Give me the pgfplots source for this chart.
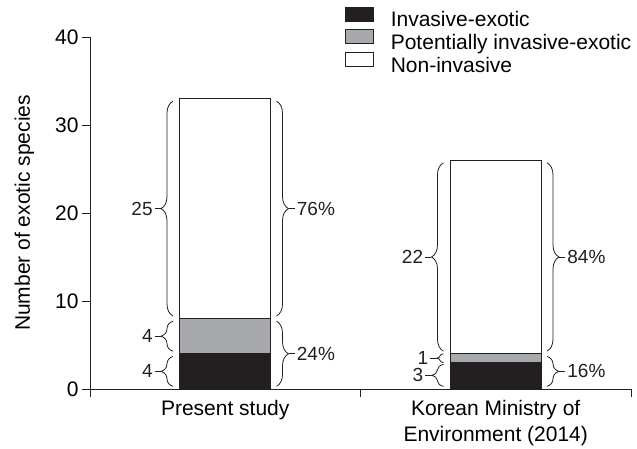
\documentclass[border=0pt]{standalone}
\usepackage{fontspec}
\setmainfont{Liberation Sans}
\usepackage{pgfplots}
\pgfplotsset{compat=1.18}
\usetikzlibrary{decorations.pathreplacing}
\definecolor{dk}{HTML}{231F20}
\definecolor{gr}{HTML}{A7A9AC}
\definecolor{ln}{HTML}{231F20}
\newcommand\lbl{\fontsize{19}{22}\selectfont}
\tikzset{
  br/.style={decorate, decoration={brace, amplitude=12pt}, line width=0.8pt, ln},
  brs/.style={decorate, decoration={brace, amplitude=7pt}, line width=0.8pt, ln},
  tk/.style={line width=0.8pt, ln},
}
\begin{document}
\begin{tikzpicture}[font=\fontsize{21}{25}\selectfont]
\begin{axis}[
  scale only axis, width=541pt, height=352pt,
  xmin=-0.5, xmax=1.5, ymin=0, ymax=40,
  axis x line=bottom, axis y line=left,
  axis line style={-, line width=0.8pt, ln},
  tick align=outside, major tick length=8pt,
  tick style={line width=0.8pt, ln},
  ytick={0,10,20,30,40},
  xtick={-0.5,0.5,1.5}, xticklabels={},
  extra x ticks={0,1},
  extra x tick labels={Present study, {Korean Ministry of\\Environment (2014)}},
  extra x tick style={major tick length=0pt, xticklabel style={yshift=-8pt}},
  xticklabel style={align=center, font=\fontsize{21}{26}\selectfont},
  yticklabel style={font=\fontsize{21}{25}\selectfont},
  ylabel={Number of exotic species},
  ylabel style={font=\fontsize{21}{25}\selectfont},
  ylabel shift=14pt,
  /pgf/number format/assume math mode=true,
  ybar stacked, bar width=91pt,
  clip=false,
  legend cell align=left,
  legend style={at={(rel axis cs:0.471,1.087)}, anchor=north west,
    draw=none, fill=none, inner sep=0pt, row sep=-2pt,
    nodes={inner sep=0pt, text height=15pt, text depth=5pt},
    column sep=17pt,
    font=\fontsize{21}{25}\selectfont},
  every axis plot/.append style={draw=ln, line width=0.8pt,
    legend image code/.code={\draw[##1, line width=0.8pt] (0pt,0.5pt) rectangle (28pt,14.5pt);}},
]
\addplot[fill=dk] coordinates {(0,4) (1,3)};
\addplot[fill=gr] coordinates {(0,4) (1,1)};
\addplot[fill=white] coordinates {(0,25) (1,22)};
\legend{Invasive-exotic, Potentially invasive-exotic, Non-invasive}

% Present study, left braces
\draw[br] ([xshift=-7pt]axis cs:-0.1673,0.3) -- ([xshift=-7pt]axis cs:-0.1673,3.7);
\draw[tk] ([xshift=-19pt]axis cs:-0.1673,2) -- ([xshift=-25pt]axis cs:-0.1673,2) node[left, inner sep=2pt, font=\lbl] {4};
\draw[br] ([xshift=-7pt]axis cs:-0.1673,4.3) -- ([xshift=-7pt]axis cs:-0.1673,7.7);
\draw[tk] ([xshift=-19pt]axis cs:-0.1673,6) -- ([xshift=-25pt]axis cs:-0.1673,6) node[left, inner sep=2pt, font=\lbl] {4};
\draw[br] ([xshift=-7pt]axis cs:-0.1673,8.3) -- ([xshift=-7pt]axis cs:-0.1673,32.7);
\draw[tk] ([xshift=-19pt]axis cs:-0.1673,20.5) -- ([xshift=-25pt]axis cs:-0.1673,20.5) node[left, inner sep=2pt, font=\lbl] {25};
% Present study, right braces
\draw[br] ([xshift=6pt]axis cs:0.1673,7.7) -- ([xshift=6pt]axis cs:0.1673,0.3);
\draw[tk] ([xshift=18pt]axis cs:0.1673,4) -- ([xshift=24pt]axis cs:0.1673,4) node[right, inner sep=2pt, font=\lbl] {24\%};
\draw[br] ([xshift=6pt]axis cs:0.1673,32.7) -- ([xshift=6pt]axis cs:0.1673,8.3);
\draw[tk] ([xshift=18pt]axis cs:0.1673,20.5) -- ([xshift=24pt]axis cs:0.1673,20.5) node[right, inner sep=2pt, font=\lbl] {76\%};

% Korean, left braces
\draw[br] ([xshift=-7pt]axis cs:0.8327,0.3) -- ([xshift=-7pt]axis cs:0.8327,2.8);
\draw[tk] ([xshift=-19pt]axis cs:0.8327,1.55) -- ([xshift=-25pt]axis cs:0.8327,1.55) node[left, inner sep=2pt, font=\lbl] {3};
\draw[brs] ([xshift=-7pt]axis cs:0.8327,3.0) -- ([xshift=-7pt]axis cs:0.8327,4.0);
\draw[tk] ([xshift=-14pt]axis cs:0.8327,3.5) -- ([xshift=-20pt]axis cs:0.8327,3.5) node[left, inner sep=2pt, font=\lbl] {1};
\draw[br] ([xshift=-7pt]axis cs:0.8327,4.3) -- ([xshift=-7pt]axis cs:0.8327,25.7);
\draw[tk] ([xshift=-19pt]axis cs:0.8327,15) -- ([xshift=-25pt]axis cs:0.8327,15) node[left, inner sep=2pt, font=\lbl] {22};
% Korean, right braces
\draw[br] ([xshift=6pt]axis cs:1.1673,3.7) -- ([xshift=6pt]axis cs:1.1673,0.3);
\draw[tk] ([xshift=18pt]axis cs:1.1673,2) -- ([xshift=24pt]axis cs:1.1673,2) node[right, inner sep=2pt, font=\lbl] {16\%};
\draw[br] ([xshift=6pt]axis cs:1.1673,25.7) -- ([xshift=6pt]axis cs:1.1673,4.3);
\draw[tk] ([xshift=18pt]axis cs:1.1673,15) -- ([xshift=24pt]axis cs:1.1673,15) node[right, inner sep=2pt, font=\lbl] {84\%};
\end{axis}
\pgfresetboundingbox
\path[use as bounding box] (-90pt,-60pt) rectangle (547pt,389pt);
\end{tikzpicture}
\end{document}
